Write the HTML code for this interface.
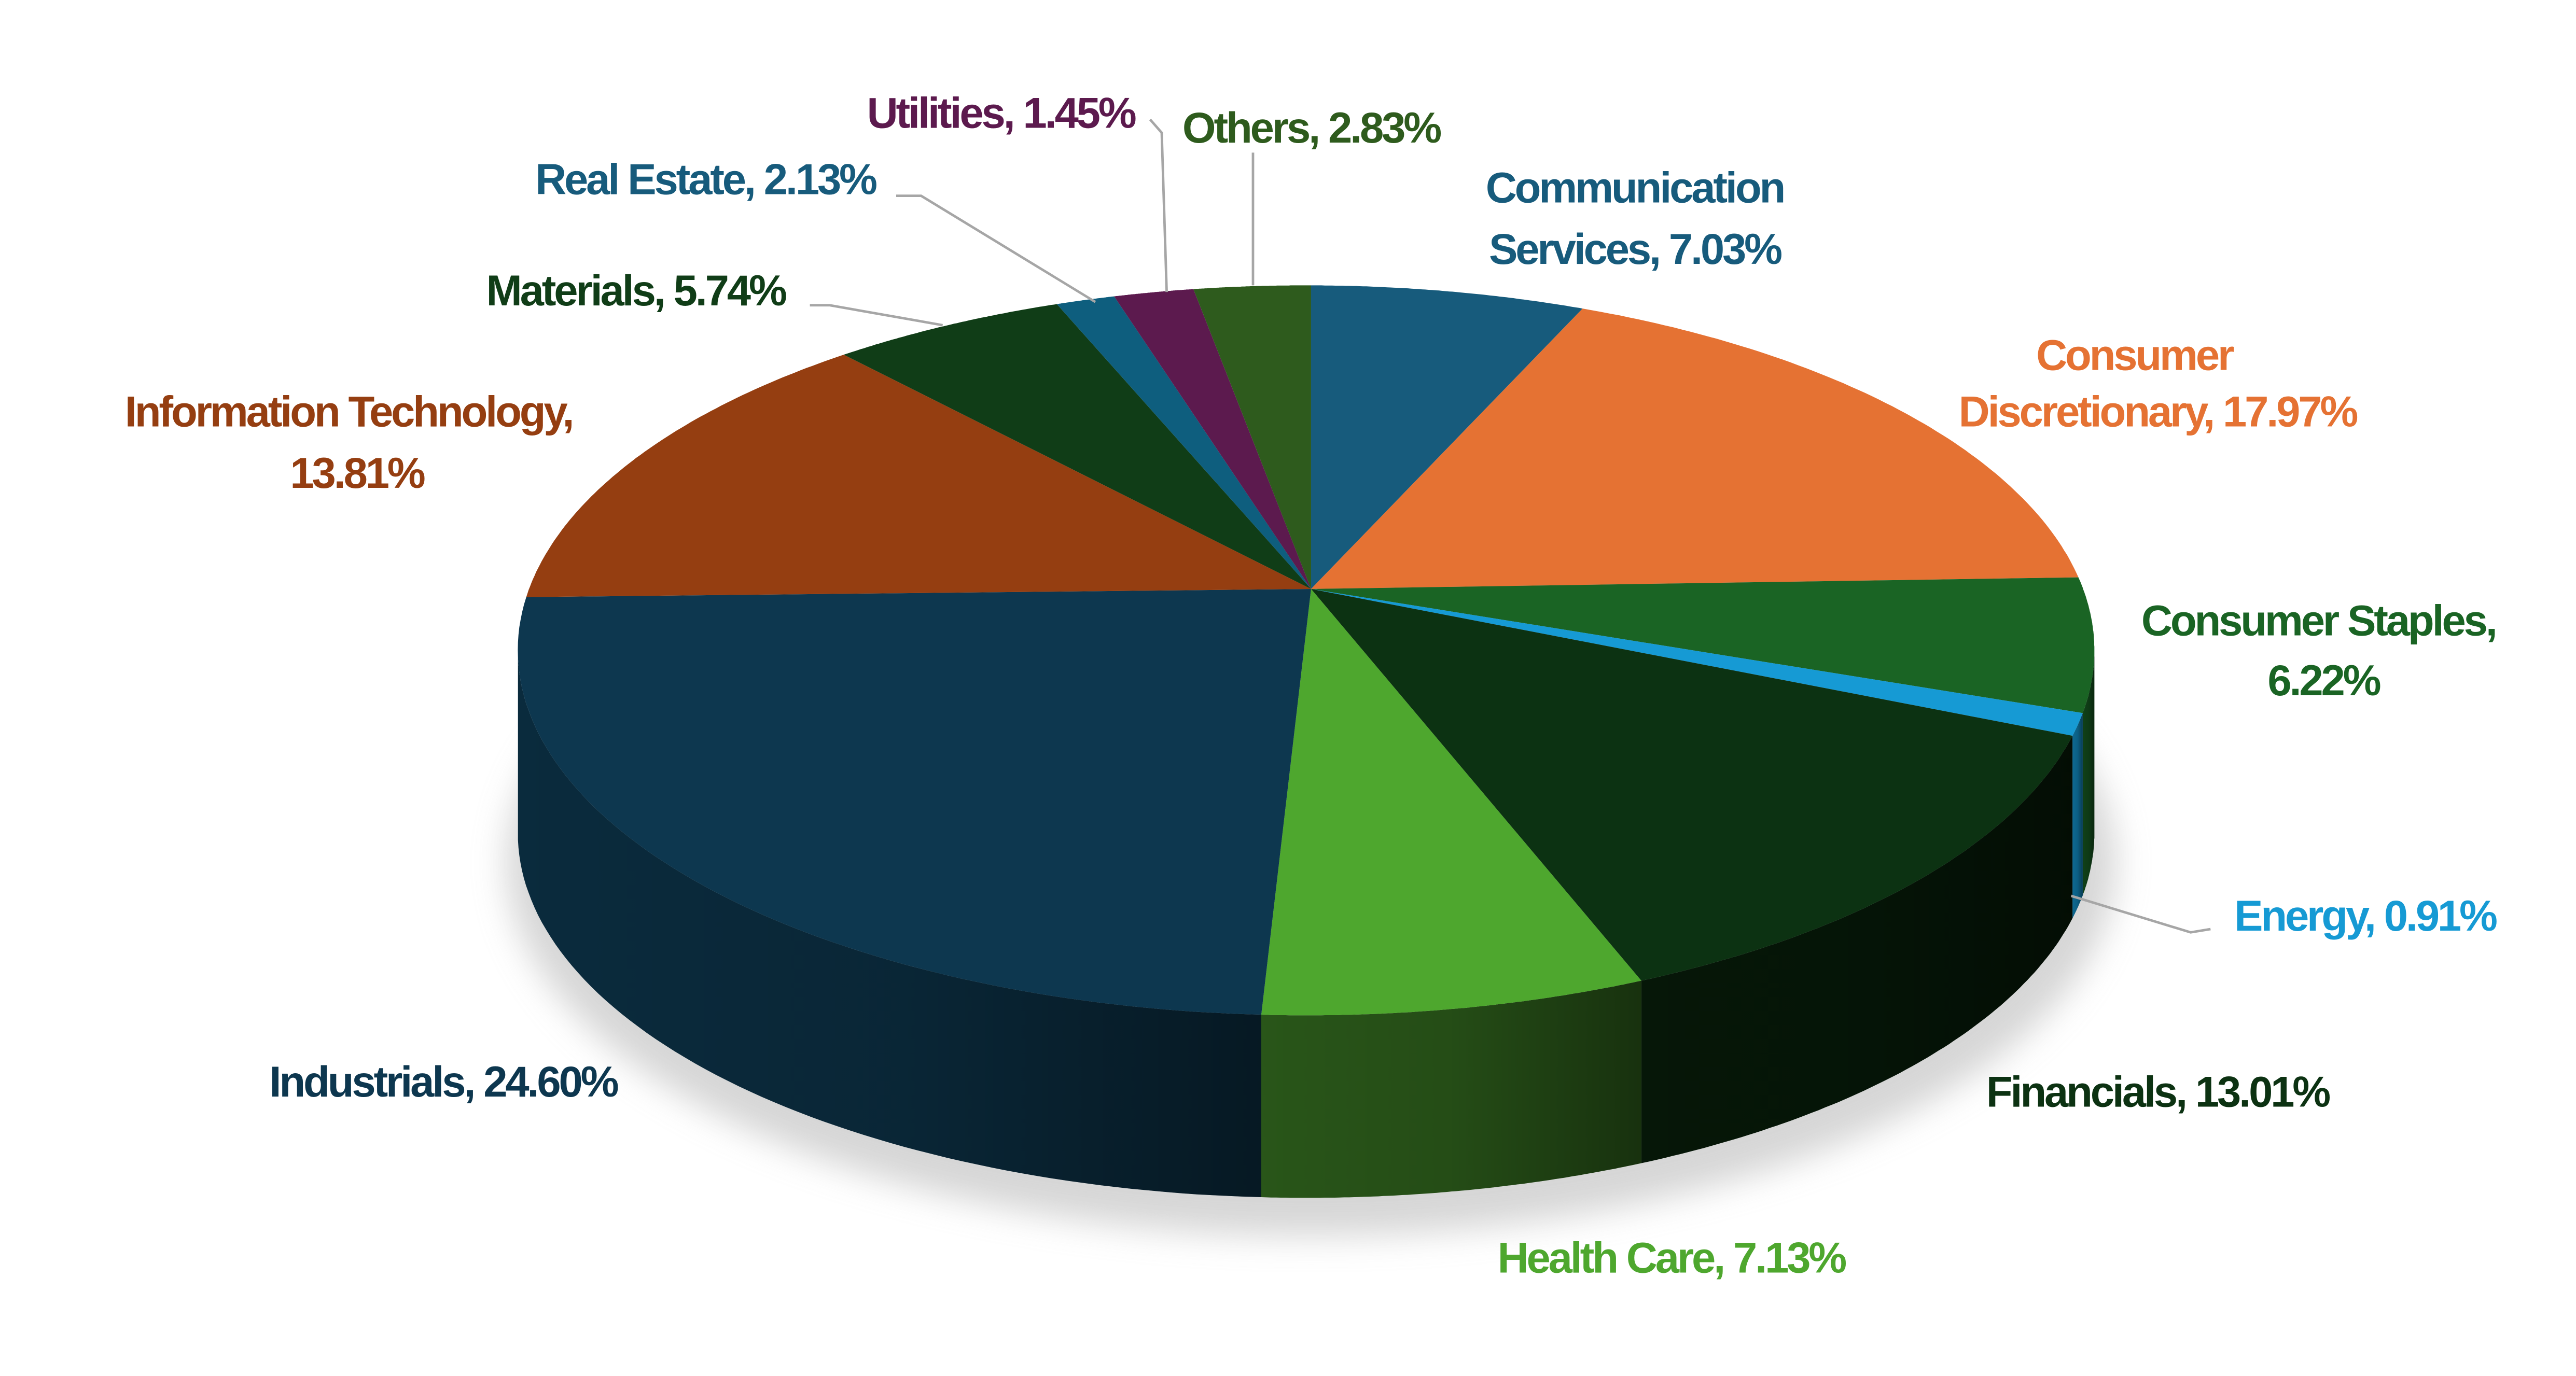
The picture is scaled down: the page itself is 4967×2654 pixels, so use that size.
<!DOCTYPE html>
<html><head><meta charset="utf-8">
<style>
html,body{margin:0;padding:0;background:#fff;}
svg{display:block;}
text{font-family:"Liberation Sans",Arial,sans-serif;font-weight:bold;font-size:26px;letter-spacing:-1.3px;text-anchor:middle;}
</style></head>
<body>
<svg id="s" width="4967" height="2654" viewBox="0 0 1552.2 829.4" xmlns="http://www.w3.org/2000/svg">
<defs>
<filter id="blur" x="-20%" y="-20%" width="140%" height="140%"><feGaussianBlur stdDeviation="10"/></filter>
<linearGradient id="shade" x1="0" y1="0" x2="1" y2="0">
<stop offset="0" stop-color="#000" stop-opacity="0.05"/>
<stop offset="0.5" stop-color="#000" stop-opacity="0.15"/>
<stop offset="1" stop-color="#000" stop-opacity="0.45"/>
</linearGradient>
</defs>
<ellipse cx="790" cy="520" rx="485" ry="225" fill="#bbb" opacity="0.6" filter="url(#blur)"/>
<g id="pie"></g>
<g stroke="#a6a6a6" stroke-width="1.5" fill="none">
<polyline points="540,118 555,118 660,182"/>
<polyline points="693,72 700,80 703,176"/>
<polyline points="755,92 755,172"/>
<polyline points="488,184 500,184 568,196"/>
<polyline points="1332,560 1320,562 1248,540"/>
</g>
<text x="603" y="77" fill="#5c1a4e">Utilities, 1.45%</text>
<text x="790" y="86" fill="#2e5b1d">Others, 2.83%</text>
<text x="425" y="117" fill="#175b7c">Real Estate, 2.13%</text>
<text x="985" y="122" fill="#175b7c">Communication</text>
<text x="985" y="159" fill="#175b7c">Services, 7.03%</text>
<text x="383" y="184" fill="#103d17">Materials, 5.74%</text>
<text x="1286" y="223" fill="#e57233">Consumer</text>
<text x="1300" y="257" fill="#e57233">Discretionary, 17.97%</text>
<text x="210" y="257" fill="#953e11">Information Technology,</text>
<text x="215" y="294" fill="#953e11">13.81%</text>
<text x="1397" y="383" fill="#1a6424">Consumer Staples,</text>
<text x="1400" y="419" fill="#1a6424">6.22%</text>
<text x="1425" y="561" fill="#169ad4">Energy, 0.91%</text>
<text x="267" y="661" fill="#0d374f">Industrials, 24.60%</text>
<text x="1300" y="667" fill="#0c3212">Financials, 13.01%</text>
<text x="1007" y="767" fill="#4ea72e">Health Care, 7.13%</text>
</svg>
<script>
(function(){
var cx=787,cy=392,rx=475,ry=220,ax=790,ay=355,depth=110;
var pts=[[790,175],[952,188],[1252,348],[1258,430],[1262,445],[998,600],[760,612],[318,360],[515,218],[638,185],[672,180],[720,177]];
var cols=["#175b7c","#e57233","#1a6424","#169ad4","#0c3212","#4ea72e","#0d374f","#953e11","#103d17","#0e5e7e","#5c1a4e","#2e5b1d"];
var side=["#0f3e55","#a34e20","#114419","#0e6f9a","#061808","#2b5a1a","#0b2d40","#6a2b0b","#0a2a10","#093f55","#3f1135","#1f3e13"];
var ts=pts.map(function(p){return Math.atan2((p[1]-cy)/ry,(p[0]-cx)/rx);});
function P(t){return [cx+rx*Math.cos(t),cy+ry*Math.sin(t)];}
var g=document.getElementById('pie'),ns="http://www.w3.org/2000/svg",sides="",tops="";
for(var i=0;i<ts.length;i++){
 var t0=ts[i],t1=ts[(i+1)%ts.length];
 while(t1<=t0)t1+=2*Math.PI;
 var arc=[];var n=80;
 for(var k=0;k<=n;k++)arc.push(t0+(t1-t0)*k/n);
 var d="M"+ax+","+ay;
 arc.forEach(function(t){var p=P(t);d+=" L"+p[0].toFixed(1)+","+p[1].toFixed(1);});
 tops+='<path d="'+d+' Z" fill="'+cols[i]+'"/>';
 // side: front portion
 var fr=arc.filter(function(t){return Math.sin(t)>=0;});
 if(fr.length>1){
  var sd="";
  fr.forEach(function(t,j){var p=P(t);sd+=(j?" L":"M")+p[0].toFixed(1)+","+p[1].toFixed(1);});
  for(var j=fr.length-1;j>=0;j--){var p=P(fr[j]);sd+=" L"+p[0].toFixed(1)+","+(p[1]+depth).toFixed(1);}
  sides+='<path d="'+sd+' Z" fill="'+side[i]+'"/>';
  sides+='<path d="'+sd+' Z" fill="url(#shade)"/>';
 }
}
g.innerHTML=sides+tops;
})();
</script>
</body></html>
